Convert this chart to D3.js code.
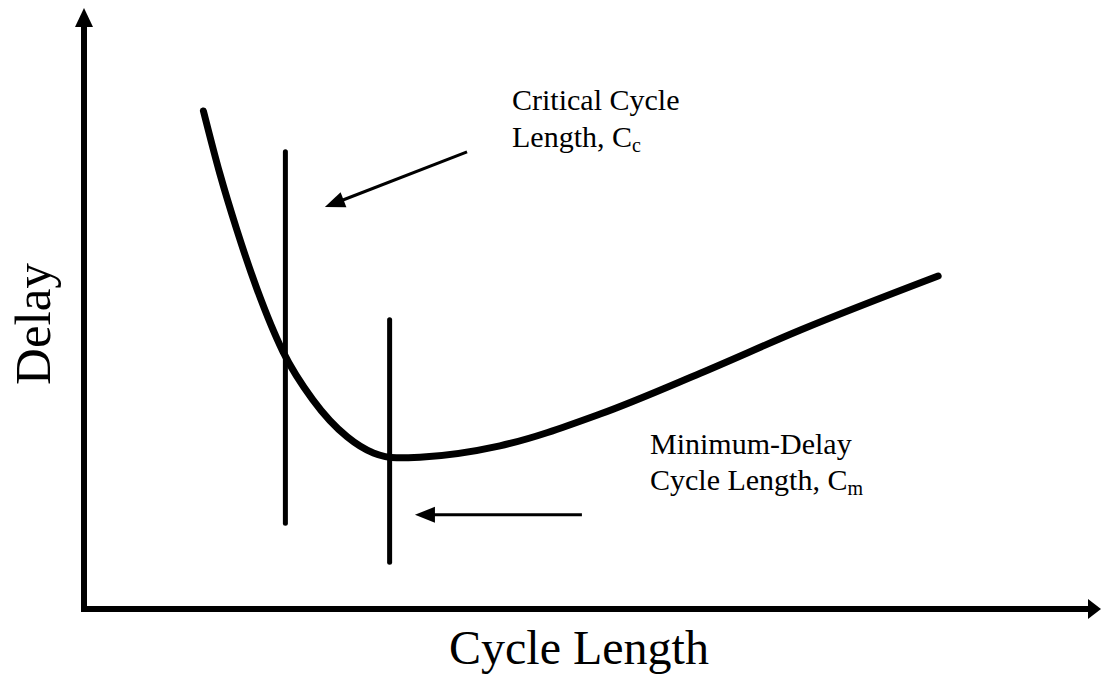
<!DOCTYPE html>
<html>
<head>
<meta charset="utf-8">
<script src="https://cdnjs.cloudflare.com/ajax/libs/d3/7.8.5/d3.min.js"></script>
<style>
  html, body { margin: 0; padding: 0; background: #fff; }
  svg { display: block; }
  text { font-family: "Liberation Serif", "Times New Roman", serif; fill: #000; }
</style>
</head>
<body>
<svg id="chart" width="1101" height="678"></svg>
<script>
// Conceptual data (arbitrary units, 0-100 on each axis)
const cycleLength = [11.8, 13.4, 15.1, 17.1, 19.66, 22.6, 26.0, 28.6, 30.9, 33.2, 41.1, 51.0, 60.9, 70.8, 84.4];
const delay       = [83.0, 72.7, 63.2, 53.3, 42.9, 34.9, 28.7, 26.0, 25.2, 25.3, 27.2, 32.5, 39.3, 46.5, 55.5];

const markerNames = ["Critical", "Minimum-Delay"];
const markerX     = [19.9, 30.2];
const markerTop   = [76.2, 48.2];
const markerBot   = [14.3, 7.8];

const xLabel = "Cycle Length";
const yLabel = "Delay";

const svg = d3.select("#chart");
const x = d3.scaleLinear().domain([0, 100]).range([84, 1096]);
const y = d3.scaleLinear().domain([0, 100]).range([609, 9]);

// Axes with arrowheads
svg.append("line").attr("x1", x(0)).attr("y1", y(0) + 3).attr("x2", x(0)).attr("y2", y(97))
  .attr("stroke", "#000").attr("stroke-width", 6);
svg.append("path")
  .attr("d", `M${x(0)},8 L${x(0) - 9},27 L${x(0) + 9},27 Z`).attr("fill", "#000");

svg.append("line").attr("x1", x(0) - 3).attr("y1", y(0)).attr("x2", 1090).attr("y2", y(0))
  .attr("stroke", "#000").attr("stroke-width", 6);
svg.append("path")
  .attr("d", `M1101,${y(0)} L1088,${y(0) - 10} L1088,${y(0) + 10} Z`).attr("fill", "#000");

// Curve
const pts = cycleLength.map((c, i) => [c, delay[i]]);
const line = d3.line().x(d => x(d[0])).y(d => y(d[1])).curve(d3.curveMonotoneX);
svg.append("path").datum(pts).attr("d", line)
  .attr("fill", "none").attr("stroke", "#000").attr("stroke-width", 7).attr("stroke-linecap", "round");

// Vertical marker lines
svg.selectAll(".marker").data(markerX).join("line")
  .attr("x1", d => x(d)).attr("x2", d => x(d))
  .attr("y1", (d, i) => y(markerTop[i])).attr("y2", (d, i) => y(markerBot[i]))
  .attr("stroke", "#000").attr("stroke-width", 5).attr("stroke-linecap", "round");

// Annotation arrows
function arrow(x1, y1, x2, y2) {
  const X1 = x(x1), Y1 = y(y1), X2 = x(x2), Y2 = y(y2);
  const ang = Math.atan2(Y2 - Y1, X2 - X1);
  const L = 20, W = 8;
  const bx = X2 - L * Math.cos(ang), by = Y2 - L * Math.sin(ang);
  svg.append("line").attr("x1", X1).attr("y1", Y1).attr("x2", bx + 2 * Math.cos(ang)).attr("y2", by + 2 * Math.sin(ang))
    .attr("stroke", "#000").attr("stroke-width", 3);
  const px = -Math.sin(ang) * W, py = Math.cos(ang) * W;
  svg.append("path").attr("d", `M${X2},${Y2} L${bx + px},${by + py} L${bx - px},${by - py} Z`).attr("fill", "#000");
}
arrow(37.85, 76.2, 23.8, 67.0);
arrow(49.2, 15.7, 32.7, 15.7);

// Annotation text
function label(px, py, lines) {
  const t = svg.append("text").attr("x", px).attr("y", py).attr("font-size", 30);
  lines.forEach((ln, i) => {
    const ts = t.append("tspan").attr("x", px).attr("dy", i === 0 ? 0 : ln.dy);
    ts.append("tspan").text(ln.main);
    if (ln.sub) {
      ts.append("tspan").attr("font-size", 20).attr("dy", 5).text(ln.sub);
    }
  });
}
label(512, 110, [{ main: "Critical Cycle" }, { main: "Length, C", sub: "c", dy: 37 }]);
label(650, 454, [{ main: "Minimum-Delay" }, { main: "Cycle Length, C", sub: "m", dy: 36 }]);

// Axis titles
svg.append("text").attr("x", 579).attr("y", 664).attr("text-anchor", "middle")
  .attr("font-size", 48).text(xLabel);
svg.append("text").attr("transform", "translate(50,324) rotate(-90)").attr("text-anchor", "middle")
  .attr("font-size", 51).text(yLabel);
</script>
</body>
</html>
